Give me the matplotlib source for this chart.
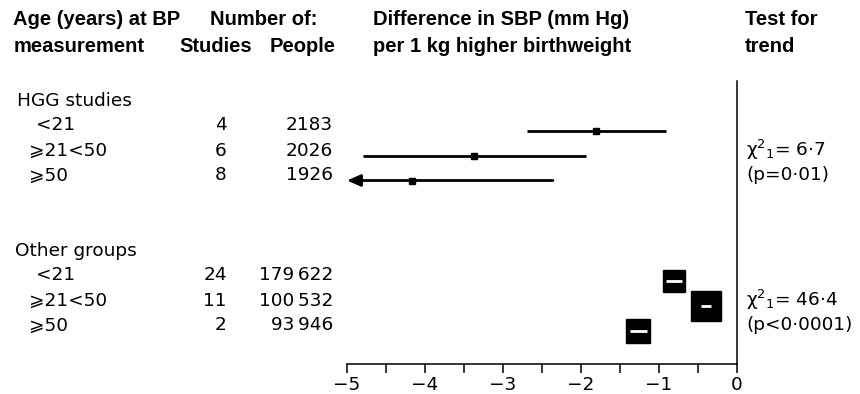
import numpy as np
import matplotlib.pyplot as plt

plt.rcParams['mathtext.fontset'] = 'dejavusans'
plt.rcParams['mathtext.default'] = 'regular'

# HGG studies: estimate and 95% CI (lower CI of last row runs off the axis)
hgg_labels = ['<21', '⩾21<50', '⩾50']
hgg_studies = [4, 6, 8]
hgg_people = ['2183', '2026', '1926']
hgg_est = [-1.81, -3.37, -4.17]
hgg_lo = [-2.69, -4.79, np.nan]
hgg_hi = [-0.91, -1.94, -2.36]

# Other groups
oth_labels = ['<21', '⩾21<50', '⩾50']
oth_studies = [24, 11, 2]
oth_people = ['179\u2009622', '100\u2009532', '93\u2009946']
oth_est = [-0.81, -0.40, -1.27]
oth_lo = [-0.91, -0.46, -1.37]
oth_hi = [-0.70, -0.33, -1.15]
oth_box = [15.8, 21.6, 16.6]

trend = [(r'$\chi^{2}{}_{1}$= 6·7', '(p=0·01)'),
         (r'$\chi^{2}{}_{1}$= 46·4', '(p<0·0001)')]

hgg_rows = [1, 2, 3]
oth_rows = [7, 8, 9]

REG = dict(family='DejaVu Sans', fontsize=13.3)
BOLD = dict(family='Liberation Sans', fontsize=14.5, fontweight='bold')

fig = plt.figure(figsize=(8.6, 3.94), dpi=100)
ax = fig.add_axes([347/860, 1-364/394, 390/860, 283/394])
ax.set_xlim(-5, 0)
ax.set_ylim(10.34, -0.98)

for s in ['top', 'left']:
    ax.spines[s].set_visible(False)
ax.spines['bottom'].set_bounds(-5, 0)
ax.spines['right'].set_linewidth(1.1)
ax.spines['bottom'].set_linewidth(1.1)
ax.set_yticks([])
ax.set_xticks(np.arange(-5, 1, 1))
ax.set_xticks(np.arange(-4.5, 0, 1), minor=True)
ax.tick_params(axis='x', which='both', direction='out', length=6.5, width=1.1)
ax.tick_params(axis='x', which='major', labelsize=13.3, pad=2)
for t in ax.get_xticklabels():
    t.set_family('DejaVu Sans')

# HGG CIs
for y, e, lo, hi in zip(hgg_rows, hgg_est, hgg_lo, hgg_hi):
    if np.isnan(lo):
        ax.annotate('', xy=(-5, y), xytext=(hi, y),
                    arrowprops=dict(arrowstyle='-|>,head_length=0.8,head_width=0.35',
                                    lw=2, color='black', shrinkA=0, shrinkB=0),
                    annotation_clip=False)
    else:
        ax.plot([lo, hi], [y, y], color='black', lw=2, solid_capstyle='butt')
    ax.plot(e, y, marker='s', ms=5, color='black', clip_on=False)

# Other groups: big boxes with white CI inside
for y, e, lo, hi, b in zip(oth_rows, oth_est, oth_lo, oth_hi, oth_box):
    ax.plot(e, y, marker='s', ms=b, color='black', mec='black', clip_on=False, zorder=3)
    ax.plot([lo, hi], [y, y], color='white', lw=2, zorder=4, solid_capstyle='butt')

# column headers
ax.text(-9.28, -3.22, 'Age (years) at BP', va='baseline', ha='left', **BOLD)
ax.text(-9.28, -2.14, 'measurement', va='baseline', ha='left', **BOLD)
ax.text(-6.76, -3.22, 'Number of:', va='baseline', ha='left', **BOLD)
ax.text(-6.22, -2.14, 'Studies', va='baseline', ha='right', **BOLD)
ax.text(-5.15, -2.14, 'People', va='baseline', ha='right', **BOLD)
ax.text(-4.67, -3.22, 'Difference in SBP (mm Hg)', va='baseline', ha='left', **BOLD)
ax.text(-4.67, -2.14, 'per 1 kg higher birthweight', va='baseline', ha='left', **BOLD)
ax.text(0.10, -3.22, 'Test for', va='baseline', ha='left', **BOLD)
ax.text(0.10, -2.14, 'trend', va='baseline', ha='left', **BOLD)

# group headers and row labels
ax.text(-9.23, 0, 'HGG studies', va='baseline', ha='left', **REG)
ax.text(-9.26, 6, 'Other groups', va='baseline', ha='left', **REG)
label_x = {'<21': -8.99, '⩾21<50': -9.08, '⩾50': -9.08}
for rows, labs, st, pp in [(hgg_rows, hgg_labels, hgg_studies, hgg_people),
                            (oth_rows, oth_labels, oth_studies, oth_people)]:
    for y, l, s, p in zip(rows, labs, st, pp):
        ax.text(label_x[l], y, l, va='baseline', ha='left', **REG)
        ax.text(-6.54, y, str(s), va='baseline', ha='right', **REG)
        ax.text(-5.18, y, p, va='baseline', ha='right', **REG)

# trend tests
for (chi, p), rows in zip(trend, [hgg_rows, oth_rows]):
    ax.text(0.12, rows[1], chi, va='baseline', ha='left', **REG)
    ax.text(0.12, rows[2], p, va='baseline', ha='left', **REG)

plt.savefig('out.png', dpi=100)
